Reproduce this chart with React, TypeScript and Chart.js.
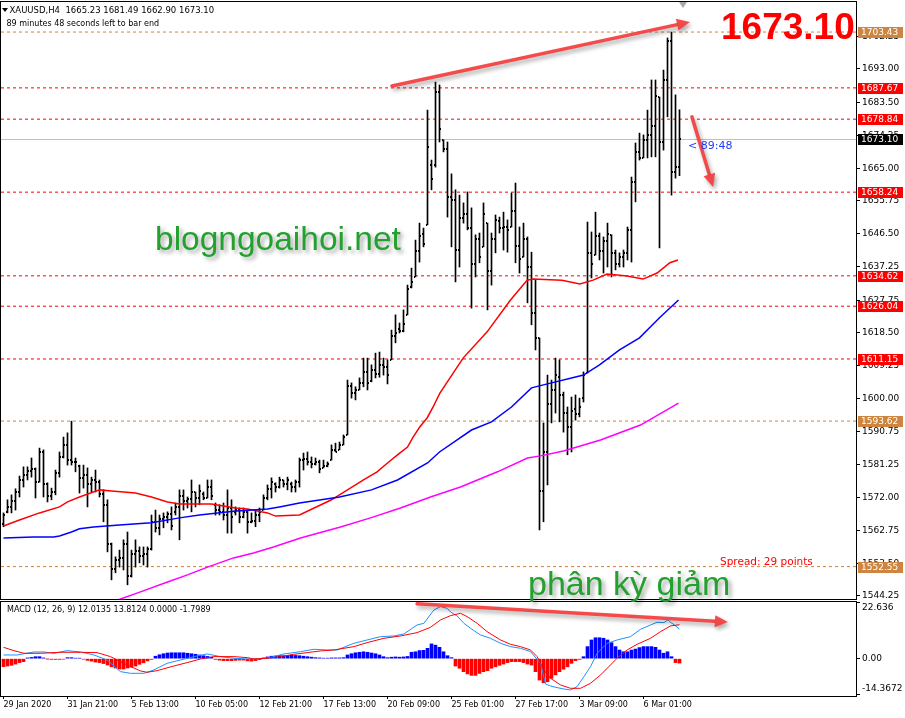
import React, { useEffect, useRef } from 'react';
import { Chart, registerables } from 'chart.js';
Chart.register(...registerables);

// ---------------- DATA ----------------
const opens = [1564.5,1567.9,1569.5,1571.0,1573.5,1577.0,1578.5,1579.5,1580.0,1576.5,1585.0,1576.0,1572.5,1573.5,1579.0,1583.5,1587.0,1582.5,1582.2,1581.0,1577.5,1578.5,1576.0,1577.0,1576.5,1573.0,1570.0,1559.0,1552.0,1554.5,1555.0,1559.0,1550.0,1556.0,1557.0,1555.5,1556.0,1557.5,1565.0,1563.5,1566.0,1566.5,1567.5,1568.0,1569.5,1572.5,1571.0,1571.5,1573.5,1572.0,1573.0,1572.0,1575.0,1570.0,1568.5,1568.0,1567.0,1569.0,1568.0,1568.5,1566.5,1568.0,1565.0,1565.5,1567.0,1568.5,1572.0,1574.5,1576.0,1575.0,1577.0,1576.0,1576.0,1575.0,1576.5,1582.5,1583.0,1582.0,1581.5,1582.0,1580.5,1581.0,1582.6,1585.5,1585.5,1587.0,1589.7,1603.5,1601.5,1602.5,1604.5,1607.5,1605.0,1608.0,1607.0,1609.5,1609.0,1610.9,1617.5,1619.5,1619.0,1623.6,1631.5,1634.3,1641.5,1646.5,1649.0,1666.0,1666.0,1686.5,1673.0,1670.5,1657.0,1656.0,1642.0,1651.0,1652.0,1648.0,1638.0,1645.0,1642.8,1649.5,1636.0,1645.0,1650.0,1648.0,1648.5,1648.4,1653.0,1643.0,1639.9,1645.0,1637.0,1624.0,1617.0,1574.0,1585.0,1598.5,1602.5,1606.0,1601.0,1596.0,1592.0,1597.0,1595.5,1600.0,1607.2,1641.0,1640.5,1646.0,1641.5,1644.5,1646.2,1641.0,1638.0,1640.0,1641.0,1647.5,1661.0,1669.5,1668.0,1673.0,1674.5,1677.0,1685.1,1672.5,1690.0,1701.0,1664.0,1665.23];
const highs = [1567.7,1571.4,1572.8,1574.5,1578.1,1580.7,1580.7,1583.2,1580.4,1586.0,1585.5,1576.2,1574.7,1579.8,1584.9,1589.1,1590.3,1593.6,1583.2,1581.2,1581.2,1580.4,1577.8,1579.8,1577.0,1574.2,1571.4,1559.2,1555.3,1557.2,1560.1,1562.3,1557.2,1560.1,1558.1,1558.1,1558.1,1567.1,1568.5,1567.1,1567.7,1568.0,1569.4,1570.5,1574.2,1574.2,1572.2,1577.0,1573.6,1575.6,1573.6,1577.0,1577.0,1570.5,1570.0,1570.5,1574.2,1571.4,1569.4,1569.1,1569.1,1568.5,1567.7,1568.5,1569.1,1572.8,1575.6,1577.6,1576.2,1577.8,1577.0,1577.8,1576.4,1577.0,1583.2,1584.6,1584.9,1583.5,1583.2,1582.6,1582.6,1582.1,1586.9,1587.4,1587.7,1589.7,1605.2,1604.4,1603.3,1605.8,1611.4,1611.4,1609.5,1612.8,1613.1,1611.4,1610.9,1619.3,1623.6,1621.3,1625.0,1632.0,1636.8,1644.7,1649.5,1648.1,1681.4,1667.3,1689.3,1688.5,1673.0,1672.4,1663.4,1658.9,1657.4,1655.2,1658.3,1653.8,1646.2,1646.7,1655.2,1649.5,1646.7,1651.8,1651.2,1652.6,1650.4,1658.0,1660.8,1648.4,1649.5,1645.6,1641.3,1633.4,1617.1,1593.1,1606.6,1605.2,1611.4,1610.9,1601.8,1597.6,1600.4,1601.0,1600.1,1607.5,1649.8,1647.0,1652.6,1646.7,1645.6,1649.5,1646.2,1641.9,1641.1,1641.9,1648.4,1662.5,1672.1,1674.9,1674.4,1681.4,1689.9,1689.9,1685.1,1692.7,1701.75,1703.43,1685.7,1681.49];
const lows = [1563.8,1567.7,1567.7,1568.5,1572.2,1575.0,1577.0,1577.8,1571.9,1576.4,1572.2,1570.8,1571.4,1572.8,1577.8,1583.2,1581.2,1581.2,1579.3,1573.3,1574.7,1569.4,1573.6,1573.6,1572.2,1565.2,1556.7,1548.8,1550.8,1552.4,1551.6,1547.4,1549.6,1552.4,1553.6,1553.0,1552.4,1557.2,1562.3,1561.5,1563.5,1564.9,1562.9,1567.1,1560.1,1568.5,1569.1,1568.0,1569.4,1570.0,1571.4,1571.9,1571.4,1567.1,1567.1,1565.7,1562.0,1562.0,1567.1,1564.9,1566.3,1562.0,1564.9,1563.8,1565.2,1568.5,1571.4,1571.9,1573.6,1574.7,1575.0,1574.2,1573.6,1573.6,1575.0,1579.8,1581.2,1580.4,1581.2,1579.0,1580.4,1580.7,1582.6,1584.9,1585.5,1586.9,1589.7,1600.1,1599.6,1602.4,1603.3,1602.4,1604.7,1605.8,1606.0,1606.6,1604.1,1610.9,1615.7,1618.5,1618.8,1623.6,1631.2,1634.3,1638.5,1642.8,1649.0,1658.9,1665.3,1672.4,1669.6,1651.2,1642.8,1632.9,1637.1,1649.5,1647.6,1625.5,1634.3,1638.3,1642.8,1625.0,1632.0,1641.1,1646.7,1641.9,1641.3,1648.4,1638.3,1635.4,1639.9,1627.0,1620.8,1613.7,1562.9,1565.2,1575.6,1593.1,1595.9,1593.4,1590.5,1584.1,1584.9,1593.9,1594.8,1599.0,1607.2,1634.0,1640.5,1639.1,1635.4,1637.1,1634.3,1636.3,1637.1,1637.1,1639.1,1638.5,1655.5,1667.3,1667.9,1667.9,1668.2,1668.2,1642.5,1670.1,1679.5,1657.4,1662.2,1662.90];
const closes = [1567.0,1569.5,1571.0,1573.5,1577.0,1578.5,1579.5,1580.0,1576.5,1585.0,1576.0,1572.5,1573.5,1579.0,1583.5,1587.0,1582.5,1582.2,1582.0,1577.5,1578.5,1576.0,1577.0,1576.5,1573.0,1570.0,1559.0,1552.0,1554.5,1555.0,1559.0,1550.0,1556.0,1557.0,1555.5,1556.0,1557.5,1565.0,1563.5,1566.0,1566.5,1567.5,1564.0,1569.5,1572.5,1571.0,1571.5,1573.5,1572.0,1574.0,1572.0,1575.0,1572.5,1568.5,1568.0,1567.0,1569.0,1566.5,1568.5,1566.5,1568.0,1565.0,1565.5,1567.0,1568.0,1572.0,1574.5,1576.5,1575.0,1577.0,1576.0,1577.0,1575.0,1576.5,1582.5,1583.0,1582.0,1581.5,1582.0,1580.0,1581.0,1581.5,1585.5,1585.0,1587.0,1589.0,1603.5,1601.5,1602.5,1604.5,1607.5,1604.5,1608.0,1607.0,1609.5,1609.0,1606.5,1617.5,1618.5,1619.0,1621.0,1631.0,1633.0,1641.5,1646.0,1643.5,1671.0,1662.0,1686.5,1676.0,1670.5,1657.0,1656.0,1642.0,1651.0,1652.0,1648.0,1638.0,1645.0,1640.0,1652.0,1636.0,1645.0,1650.5,1648.0,1648.5,1647.5,1653.0,1643.0,1639.5,1645.0,1637.0,1624.0,1617.0,1574.0,1585.0,1598.5,1602.5,1606.5,1601.0,1596.0,1592.0,1596.5,1595.5,1597.5,1606.5,1641.0,1638.0,1646.0,1641.5,1644.5,1646.5,1641.0,1638.0,1640.0,1641.0,1647.5,1661.0,1669.5,1668.0,1673.0,1674.5,1677.0,1685.5,1672.5,1690.0,1701.0,1664.0,1665.23,1673.10];

const xTickIdx = [0, 16, 32, 48, 64, 80, 96, 112, 128, 144, 160];
const xTickLabels = ['29 Jan 2020', '31 Jan 21:00', '5 Feb 13:00', '10 Feb 05:00', '12 Feb 21:00', '17 Feb 13:00', '20 Feb 09:00', '25 Feb 01:00', '27 Feb 17:00', '3 Mar 09:00', '6 Mar 01:00'];
const priceTicks = [1544.25, 1553.5, 1562.75, 1572.0, 1581.25, 1590.75, 1600.0, 1609.25, 1618.5, 1627.75, 1637.25, 1646.5, 1655.75, 1665.0, 1674.25, 1683.5, 1693.0, 1702.25];

const maRedIdx = [0, 4, 9, 14, 16, 19, 24, 27, 33, 37, 41, 44, 49, 52, 58, 61, 66, 68, 74, 82, 90, 93.4, 96, 98.5, 101, 102.4, 104.1, 105.9, 107.4, 109.1, 114.9, 120.9, 126.75, 130.9, 132.4, 139.6, 144.1, 147.4, 150.9, 155.9, 159.9, 163.4, 166.6, 168.6];
const maRedVal = [1564.0, 1565.7, 1567.7, 1569.4, 1570.8, 1572.2, 1574.2, 1573.9, 1573.3, 1572.2, 1570.8, 1570.2, 1570.2, 1570.2, 1569.1, 1568.8, 1567.7, 1566.8, 1567.1, 1571.4, 1577.0, 1579.3, 1581.8, 1584.1, 1586.3, 1589.1, 1592.0, 1594.5, 1597.6, 1601.5, 1611.4, 1618.8, 1627.8, 1633.4, 1633.7, 1633.4, 1632.3, 1633.4, 1635.1, 1634.6, 1633.7, 1635.4, 1638.3, 1639.1];
const maBlueIdx = [0, 7.5, 12.5, 14, 17, 19, 22.5, 29, 37, 44, 49, 57.5, 66, 69, 74, 84, 92, 98.5, 106, 109, 117, 122, 127, 132, 137, 142, 145, 149, 154, 159, 164, 168.75];
const maBlueVal = [1560.6, 1560.9, 1560.9, 1561.2, 1562.3, 1563.2, 1563.7, 1564.3, 1564.9, 1566.3, 1567.1, 1568.2, 1568.8, 1569.4, 1570.5, 1572.2, 1574.2, 1577.0, 1581.8, 1584.9, 1591.1, 1593.4, 1597.6, 1603.0, 1604.4, 1605.8, 1606.6, 1609.5, 1613.7, 1617.1, 1622.8, 1627.8];
const maMagIdx = [24.25, 29.25, 34.25, 41, 46, 51, 57.5, 62.5, 67.5, 74.25, 84.25, 91.75, 99.25, 106.75, 114.25, 123.5, 131, 134.25, 140, 149.25, 159.25, 168.75];
const maMagVal = [1541.4, 1543.4, 1545.4, 1548.2, 1550.2, 1552.4, 1555.0, 1556.4, 1558.1, 1560.6, 1563.7, 1566.3, 1569.1, 1572.2, 1575.0, 1579.3, 1583.2, 1583.8, 1585.2, 1588.3, 1592.5, 1598.7];

const redLevels = [1687.67, 1678.84, 1658.24, 1634.62, 1626.04, 1611.15];
const peruLevels = [1703.43, 1593.62, 1552.55];
const bidPrice = 1673.10;

const histVals = [-3.25,-3.0,-2.7,-2.2,-1.6,-1.2,0.3,0.5,0.8,0.8,0.3,-0.1,-0.3,-0.3,-0.3,-0.2,0.4,0.4,0.2,0.2,-0.2,-0.7,-1.0,-1.4,-1.6,-2.0,-2.6,-3.3,-3.8,-4.2,-4.2,-3.8,-3.5,-3.0,-2.3,-1.7,-0.9,-0.3,1.0,1.6,2.0,2.3,2.4,2.4,2.4,2.4,2.2,2.0,1.8,1.5,1.2,0.9,0.6,-0.3,-0.6,-0.8,-0.8,-0.8,-0.7,-0.6,-0.6,-0.9,-1.0,-0.8,-0.4,0.3,0.7,1.0,1.1,1.3,1.2,1.3,1.4,1.3,1.2,1.0,0.8,0.6,0.4,0.3,0.2,0.2,0.3,0.3,0.3,0.4,1.5,2.0,2.4,2.6,2.8,2.6,2.3,2.0,1.5,0.8,0.4,0.6,0.7,0.6,0.7,0.9,2.6,2.8,3.3,3.4,4.2,6.0,5.5,4.6,2.8,1.2,0.4,-3.0,-3.9,-5.3,-6.2,-6.8,-6.8,-6.0,-5.3,-4.9,-3.9,-3.3,-2.7,-2.2,-1.6,-1.2,-1.2,-1.2,-1.6,-2.2,-2.6,-5.3,-8.7,-9.8,-9.4,-8.0,-6.6,-5.3,-4.3,-3.3,-1.9,-0.8,-0.3,0.8,4.9,7.6,8.5,8.5,8.3,7.6,6.5,4.9,3.5,2.8,2.8,3.5,3.9,4.5,4.9,4.9,4.9,4.6,3.5,2.2,2.8,0.8,-1.6,-1.8];
const macdIdx = [0, 3.4, 7.6, 10.1, 12.6, 15.9, 19.25, 22.6, 25.9, 29.25, 31.75, 35.1, 37.6, 40.9, 44.25, 47.6, 50.9, 54.25, 57.6, 60.9, 64.25, 67.6, 70.1, 74.25, 77.6, 80.9, 83.4, 87.6, 90.9, 94.25, 97.6, 100.1, 103.4, 105.1, 107.6, 109.25, 110.9, 111.75, 113.4, 115.1, 116.75, 119.25, 121.75, 124.25, 126.75, 129.25, 131.75, 134.25, 135.5, 136.75, 138.4, 140.1, 141.75, 143.4, 145.1, 146.75, 148.4, 150.9, 153.4, 156.75, 159.25, 161.75, 163.4, 165.1, 166.1, 166.75, 167.75, 169];
const macdVal = [1.5, 1.5, 2.72, 2.72, 2.18, 3.27, 2.72, 1.5, -0.53, -5.27, -5.95, -5.95, -4.59, -1.88, -0.53, 0.83, 1.91, 0.83, 0.15, -0.12, -0.12, 0.83, 1.91, 2.86, 3.81, 3.54, 3.54, 6.25, 7.6, 8.96, 9.23, 10.04, 13.7, 14.38, 19.8, 21.16, 20.48, 19.0, 17.36, 14.38, 12.35, 9.64, 8.28, 6.25, 4.89, 4.22, 2.86, -1.88, -10.29, -11.1, -11.78, -12.32, -12.73, -11.37, -7.31, -3.24, 2.18, 6.25, 7.6, 8.96, 11.94, 13.7, 14.79, 14.65, 15.74, 14.79, 13.7, 12.01];
const signalIdx = [0, 2.6, 5.1, 9.25, 14.25, 19.25, 23.4, 26.75, 30.9, 34.25, 35.9, 38.4, 42.6, 45.9, 49.25, 52.6, 57.6, 60.9, 62.6, 65.9, 69.25, 72.6, 75.9, 79.25, 82.6, 87.6, 90.9, 95.1, 99.25, 103.4, 106.75, 109.25, 111.75, 114.25, 115.9, 118.4, 120.9, 124.25, 126.75, 129.25, 131.75, 133.4, 135.1, 136.75, 139.25, 141.75, 144.25, 146.75, 149.25, 151.75, 153.4, 155.9, 158.4, 161.75, 164.25, 166.75, 169];
const signalVal = [4.62, 3.27, 2.18, 2.18, 2.59, 2.59, 2.45, 0.83, -2.56, -5.0, -5.54, -4.87, -2.97, -1.61, -0.12, 0.83, 0.83, 0.42, -0.12, 0.15, 0.83, 1.78, 2.45, 3.13, 3.54, 4.89, 6.52, 8.28, 9.23, 10.59, 12.75, 15.74, 17.5, 18.45, 17.09, 14.38, 10.99, 7.6, 5.84, 4.89, 3.54, 0.83, -4.59, -7.98, -10.69, -12.05, -12.05, -10.01, -6.63, -2.56, 0.15, 3.54, 5.84, 8.28, 10.99, 13.3, 13.81];
const macdTicks = [22.636, 0, -14.3672];
const macdTickLabels = ['22.636', '0.00', '-14.3672'];

// arrows (bar index / value coordinates)
const priceArrows = [
  { x1: 97.1, y1: 1688.2, x2: 171.6, y2: 1706.3 },
  { x1: 172.1, y1: 1679.5, x2: 177.4, y2: 1659.7 },
];
const macdArrows = [{ x1: 103.4, y1: 22.3, x2: 181.1, y2: 14.9 }];

// ---------------- LAYOUT ----------------
const X_MIN = -0.625;
const X_MAX = 213.125;
const Y_MIN = 1543.4;
const Y_MAX = 1711.91;
const M_MIN = -15.18;
const M_MAX = 23.04;
const AXIS_FONT = 'DejaVu Sans';

function drawArrow(ctx: CanvasRenderingContext2D, x1: number, y1: number, x2: number, y2: number) {
  const ang = Math.atan2(y2 - y1, x2 - x1);
  const hl = 13, hw = 6;
  const bx = x2 - hl * Math.cos(ang), by = y2 - hl * Math.sin(ang);
  ctx.save();
  ctx.shadowColor = 'rgba(0,0,0,0.35)';
  ctx.shadowBlur = 4;
  ctx.shadowOffsetX = 2;
  ctx.shadowOffsetY = 3;
  ctx.strokeStyle = 'rgba(245,65,65,0.95)';
  ctx.fillStyle = 'rgba(245,65,65,0.95)';
  ctx.lineWidth = 3.5;
  ctx.lineCap = 'round';
  ctx.beginPath();
  ctx.moveTo(x1, y1);
  ctx.lineTo(bx, by);
  ctx.stroke();
  ctx.beginPath();
  ctx.moveTo(x2, y2);
  ctx.lineTo(bx + hw * Math.sin(ang), by - hw * Math.cos(ang));
  ctx.lineTo(bx - hw * Math.sin(ang), by + hw * Math.cos(ang));
  ctx.closePath();
  ctx.fill();
  ctx.restore();
}

const framePlugin = {
  id: 'frame',
  afterDraw(chart: any) {
    const { ctx, chartArea } = chart;
    ctx.save();
    ctx.strokeStyle = '#000';
    ctx.lineWidth = 1;
    ctx.strokeRect(0.5, chartArea.top - 0.5, chartArea.right, chartArea.bottom - chartArea.top + 1);
    ctx.restore();
  },
};

const tickImage = (side: 'open' | 'close') => {
  const c = document.createElement('canvas');
  c.width = 5;
  c.height = 2;
  const g = c.getContext('2d')!;
  g.fillStyle = '#000';
  g.fillRect(side === 'open' ? 1 : 3, 0, 1, 2);
  return c;
};

const noPad = (s: any) => {
  s.paddingTop = 0;
  s.paddingBottom = 0;
  s.paddingLeft = 0;
  s.paddingRight = 0;
};

const Txt = ({ x, base, size, fam = 'DejaVu Sans', color = '#000', weight = 400, shadow, children }: any) => (
  <div
    style={{
      position: 'absolute', left: x, top: base - size * 0.846, fontFamily: fam, fontSize: size,
      lineHeight: `${size}px`, color, fontWeight: weight, whiteSpace: 'pre', textShadow: shadow, pointerEvents: 'none',
    }}
  >
    {children}
  </div>
);

export default function App() {
  const mainRef = useRef<HTMLCanvasElement>(null);
  const macdRef = useRef<HTMLCanvasElement>(null);

  useEffect(() => {
    const openImg = tickImage('open');
    const closeImg = tickImage('close');

    const levelDatasets = [
      ...redLevels.map((v) => ({ type: 'line', data: [{ x: X_MIN, y: v }, { x: X_MAX, y: v }], borderColor: '#ff0000', borderWidth: 1, borderDash: [3, 3], pointRadius: 0, order: 10 })),
      ...peruLevels.map((v) => ({ type: 'line', data: [{ x: X_MIN, y: v }, { x: X_MAX, y: v }], borderColor: '#cd853f', borderWidth: 1, borderDash: [3, 3], pointRadius: 0, order: 10 })),
      { type: 'line', data: [{ x: X_MIN, y: bidPrice }, { x: X_MAX, y: bidPrice }], borderColor: '#c0c0c0', borderWidth: 1, pointRadius: 0, order: 10 },
    ];

    const labelBoxes = [
      ...redLevels.map((v) => ({ v, bg: '#ff0000' })),
      ...peruLevels.map((v) => ({ v, bg: '#cd853f' })),
      { v: bidPrice, bg: '#000000' },
    ];

    const boxPlugin = {
      id: 'boxes',
      afterDraw(chart: any) {
        const { ctx } = chart;
        const ys = chart.scales.y;
        ctx.save();
        ctx.font = `9px "${AXIS_FONT}"`;
        ctx.textBaseline = 'middle';
        ctx.textAlign = 'left';
        labelBoxes.forEach((b) => {
          const y = Math.round(ys.getPixelForValue(b.v));
          ctx.fillStyle = b.bg;
          ctx.fillRect(858, y - 5, 45, 11);
          ctx.fillStyle = '#fff';
          ctx.fillText(b.v.toFixed(2), 861, y + 0.5);
        });
        ctx.restore();
      },
    };

    const arrowPlugin = (arrows: any[]) => ({
      id: 'arrows',
      afterDraw(chart: any) {
        const xs = chart.scales.x, ys = chart.scales.y;
        arrows.forEach((a) =>
          drawArrow(chart.ctx, xs.getPixelForValue(a.x1), ys.getPixelForValue(a.y1), xs.getPixelForValue(a.x2), ys.getPixelForValue(a.y2))
        );
      },
    });

    const c1 = new Chart(mainRef.current!, {
      type: 'bar',
      data: {
        datasets: [
          ...levelDatasets,
          { type: 'bar', data: highs.map((h, i) => ({ x: i, y: [lows[i], h] })), backgroundColor: '#000', barThickness: 1, borderWidth: 0, order: 5 },
          { type: 'scatter', data: opens.map((o, i) => ({ x: i, y: o })), pointStyle: openImg, pointRadius: 1, order: 4 },
          { type: 'scatter', data: closes.map((c, i) => ({ x: i, y: c })), pointStyle: closeImg, pointRadius: 1, order: 4 },
          { type: 'line', data: maMagIdx.map((x, k) => ({ x, y: maMagVal[k] })), borderColor: '#ff00ff', borderWidth: 1.5, pointRadius: 0, order: 1 },
          { type: 'line', data: maBlueIdx.map((x, k) => ({ x, y: maBlueVal[k] })), borderColor: '#0000ff', borderWidth: 1.5, pointRadius: 0, order: 1 },
          { type: 'line', data: maRedIdx.map((x, k) => ({ x, y: maRedVal[k] })), borderColor: '#ff0000', borderWidth: 1.5, pointRadius: 0, order: 1 },
        ] as any,
      },
      options: {
        animation: false,
        responsive: false,
        events: [],
        layout: { autoPadding: false, padding: { left: 1, top: 2, right: 0, bottom: 1 } },
        plugins: { legend: { display: false }, tooltip: { enabled: false }, title: { display: false } },
        scales: {
          x: { type: 'linear', min: X_MIN, max: X_MAX, display: false, offset: false, grid: { offset: false } },
          y: {
            type: 'linear', position: 'right', min: Y_MIN, max: Y_MAX,
            afterBuildTicks: (s: any) => { s.ticks = priceTicks.map((v) => ({ value: v })); },
            afterFit: (s: any) => { s.width = 49; noPad(s); },
            ticks: { font: { family: AXIS_FONT, size: 9 }, color: '#000', padding: 2, autoSkip: false, callback: (v: any) => Number(v).toFixed(2) },
            grid: { drawOnChartArea: false, drawTicks: true, tickLength: 4, color: '#000' },
            border: { display: false },
          },
        },
      } as any,
      plugins: [framePlugin, boxPlugin, arrowPlugin(priceArrows)],
    });

    const macdLabelPlugin = {
      id: 'macdLabels',
      afterDraw(chart: any) {
        const { ctx } = chart;
        const ys = chart.scales.y;
        ctx.save();
        ctx.font = `9px "${AXIS_FONT}"`;
        ctx.fillStyle = '#000';
        ctx.textBaseline = 'middle';
        const ypos = [ys.top + 5.5, ys.getPixelForValue(macdTicks[1]), ys.bottom - 7.5];
        macdTickLabels.forEach((t, k) => ctx.fillText(t, 862, ypos[k]));
        ctx.restore();
      },
    };

    const c2 = new Chart(macdRef.current!, {
      type: 'bar',
      data: {
        datasets: [
          { type: 'bar', data: histVals.map((v, i) => ({ x: i, y: v })), backgroundColor: histVals.map((v) => (v >= 0 ? '#0000ff' : '#ff0000')), barThickness: 3, borderWidth: 0, order: 5 },
          { type: 'line', data: signalIdx.map((x, k) => ({ x, y: signalVal[k] })), borderColor: '#ff0000', borderWidth: 1, pointRadius: 0, order: 1 },
          { type: 'line', data: macdIdx.map((x, k) => ({ x, y: macdVal[k] })), borderColor: '#1e90ff', borderWidth: 1, pointRadius: 0, order: 1 },
        ] as any,
      },
      options: {
        animation: false,
        responsive: false,
        events: [],
        layout: { autoPadding: false, padding: { left: 1, top: 2, right: 0, bottom: 0 } },
        plugins: { legend: { display: false }, tooltip: { enabled: false }, title: { display: false } },
        scales: {
          x: {
            type: 'linear', min: X_MIN, max: X_MAX, offset: false,
            afterBuildTicks: (s: any) => { s.ticks = xTickIdx.map((v) => ({ value: v })); },
            afterFit: (s: any) => { s.height = 22; noPad(s); },
            ticks: {
              font: { family: AXIS_FONT, size: 8 }, color: '#000', align: 'start', maxRotation: 0, autoSkip: false, padding: 1,
              callback: (v: any) => xTickLabels[xTickIdx.indexOf(Number(v))],
            },
            grid: { drawOnChartArea: false, drawTicks: true, tickLength: 3, color: '#000', offset: false },
            border: { display: false },
          },
          y: {
            type: 'linear', position: 'right', min: M_MIN, max: M_MAX,
            afterBuildTicks: (s: any) => { s.ticks = macdTicks.map((v) => ({ value: v })); },
            afterFit: (s: any) => { s.width = 49; noPad(s); },
            ticks: { display: false },
            grid: { drawOnChartArea: false, drawTicks: true, tickLength: 4, color: '#000' },
            border: { display: false },
          },
        },
      } as any,
      plugins: [framePlugin, macdLabelPlugin, arrowPlugin(macdArrows)],
    });

    return () => {
      c1.destroy();
      c2.destroy();
    };
  }, []);

  const green = '#23a12f';
  const gshadow = '3px 3px 4px rgba(0,0,0,0.35)';

  return (
    <div style={{ position: 'fixed', left: 0, top: 0, width: 905, height: 718, background: '#fff', overflow: 'hidden' }}>
      <canvas ref={mainRef} width={905} height={600} style={{ position: 'absolute', left: 0, top: 0, width: 905, height: 600 }} />
      <canvas ref={macdRef} width={905} height={118} style={{ position: 'absolute', left: 0, top: 600, width: 905, height: 118 }} />

      <div style={{ position: 'absolute', left: 2, top: 8, width: 0, height: 0, borderLeft: '3px solid transparent', borderRight: '3px solid transparent', borderTop: '4px solid #000' }} />
      <div style={{ position: 'absolute', left: 679, top: 2, width: 0, height: 0, borderLeft: '4px solid transparent', borderRight: '4px solid transparent', borderTop: '6px solid #a8a8a8' }} />

      <Txt x={9.5} base={13.3} size={8.5}>{'XAUUSD,H4  1665.23 1681.49 1662.90 1673.10'}</Txt>
      <Txt x={6.5} base={26.4} size={8}>89 minutes 48 seconds left to bar end</Txt>
      <Txt x={7} base={613} size={8}>MACD (12, 26, 9) 12.0135 13.8124 0.0000 -1.7989</Txt>
      <Txt x={721} base={39} size={37} fam="Liberation Sans" weight={700} color="#ff0000">1673.10</Txt>
      <Txt x={155} base={250} size={33.5} fam="Liberation Sans" color={green} shadow={gshadow}>blogngoaihoi.net</Txt>
      <Txt x={528} base={595} size={34} fam="Liberation Sans" color={green} shadow={gshadow}>phân kỳ giảm</Txt>
      <Txt x={720} base={565} size={10.5} color="#ff0000">Spread: 29 points</Txt>
      <Txt x={688} base={149} size={11} color="#1f3cff">{'< 89:48'}</Txt>
    </div>
  );
}
